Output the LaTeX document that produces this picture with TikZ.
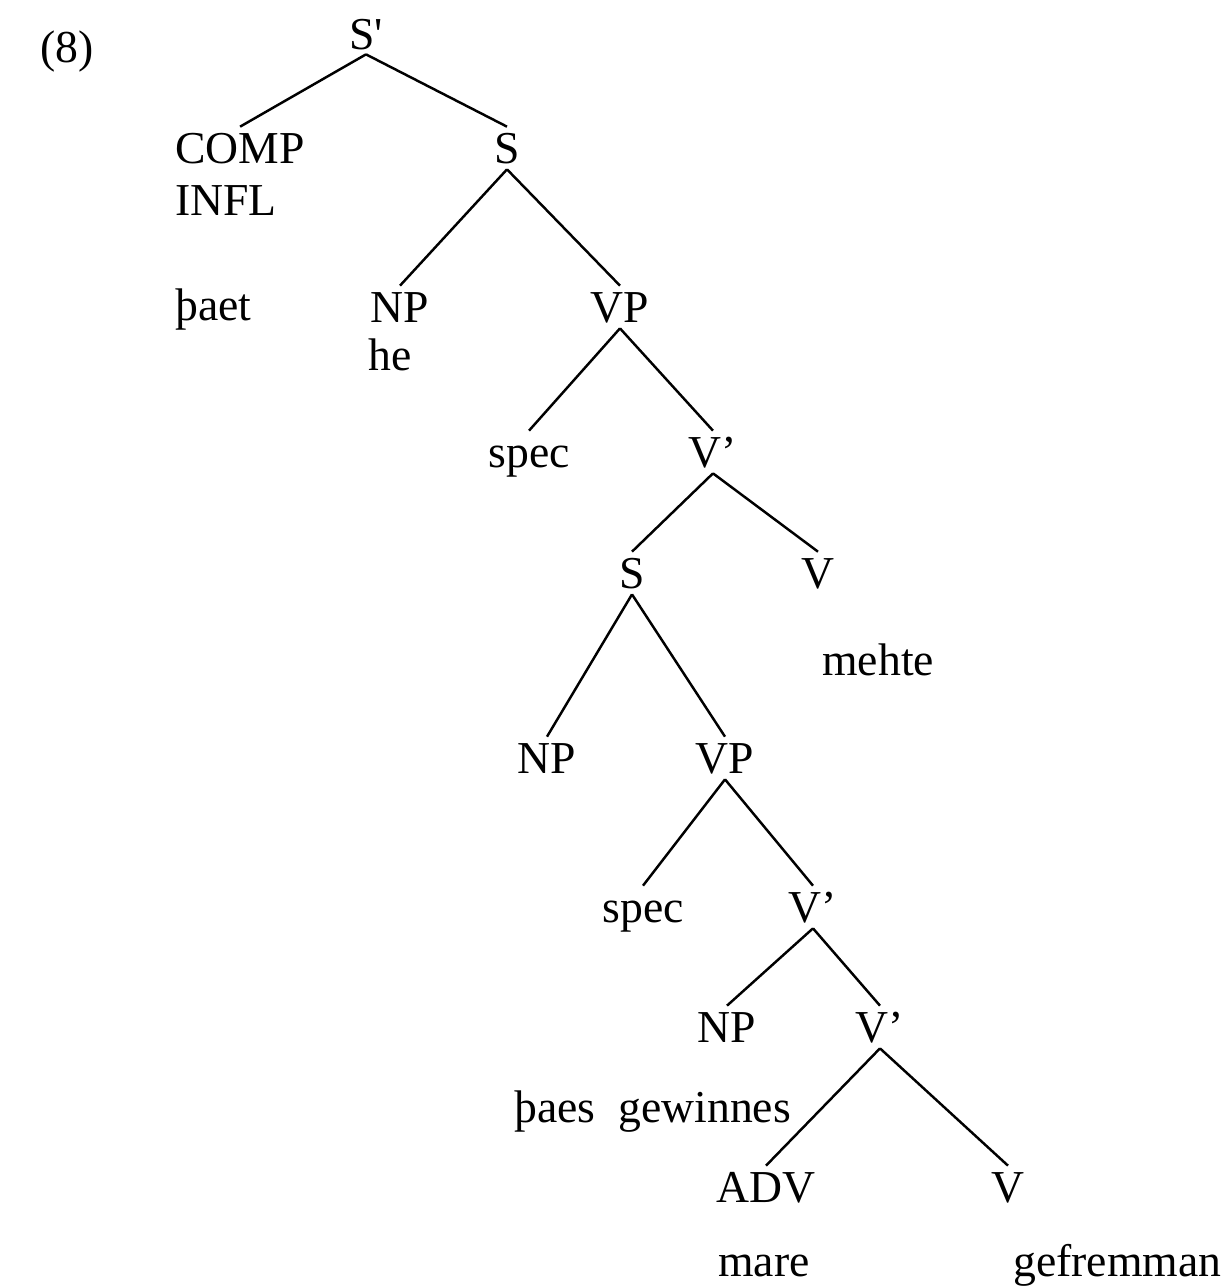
\documentclass[tikz,border=0pt]{standalone}
\usepackage{fontspec}
\setmainfont{Liberation Serif}
\begin{document}
\begin{tikzpicture}[x=0.02cm,y=-0.02cm,
  lbl/.style={font=\fontsize{26}{31}\selectfont, inner sep=0pt},
  cat/.style={lbl, anchor=base, text height=0.72cm, text depth=0.12cm},
  word/.style={lbl, anchor=base west},
  branch/.style={line width=1.4pt}]
\useasboundingbox (0,0) rectangle (1229,1286);

% example number
\node[word] (ex) at (40,62) {(8)};

% category labels
\node[cat, text depth=0.1cm] (sbar) at (366,49) {S\textquotesingle};
\node[cat, anchor=base west] (comp) at (175,163) {COMP};
\node[word] (infl) at (175,215) {INFL};
\node[cat] (s1) at (507,163) {S};
\node[cat] (np1) at (400,322) {NP};
\node[cat] (vp1) at (620,322) {VP};
\node[cat] (spec1) at (529,467) {spec};
\node[cat] (vbar1) at (713,467) {V’};
\node[cat] (s2) at (632,588) {S};
\node[cat] (v1) at (818,588) {V};
\node[cat] (np2) at (547,773) {NP};
\node[cat] (vp2) at (725,773) {VP};
\node[cat] (spec2) at (643,922) {spec};
\node[cat] (vbar2) at (813,922) {V’};
\node[cat] (np3) at (727,1042) {NP};
\node[cat] (vbar3) at (880,1042) {V’};
\node[cat] (adv) at (766,1202) {ADV};
\node[cat] (v2) at (1008,1202) {V};

% lexical items
\node[word] (paet) at (175,320) {þaet};
\node[word] (he) at (368,370) {he};
\node[word] (mehte) at (822,675) {mehte};
\node[word] (paes) at (514,1122) {þaes\ \ gewinnes};
\node[word] (mare) at (718,1276) {mare};
\node[word] (gef) at (1013,1276) {gefremman};

% branches
\draw[branch] (sbar.south) -- (comp.north);
\draw[branch] (sbar.south) -- (s1.north);
\draw[branch] (s1.south) -- (np1.north);
\draw[branch] (s1.south) -- (vp1.north);
\draw[branch] (vp1.south) -- (spec1.north);
\draw[branch] (vp1.south) -- (vbar1.north);
\draw[branch] (vbar1.south) -- (s2.north);
\draw[branch] (vbar1.south) -- (v1.north);
\draw[branch] (s2.south) -- (np2.north);
\draw[branch] (s2.south) -- (vp2.north);
\draw[branch] (vp2.south) -- (spec2.north);
\draw[branch] (vp2.south) -- (vbar2.north);
\draw[branch] (vbar2.south) -- (np3.north);
\draw[branch] (vbar2.south) -- (vbar3.north);
\draw[branch] (vbar3.south) -- (adv.north);
\draw[branch] (vbar3.south) -- (v2.north);
\end{tikzpicture}
\end{document}
